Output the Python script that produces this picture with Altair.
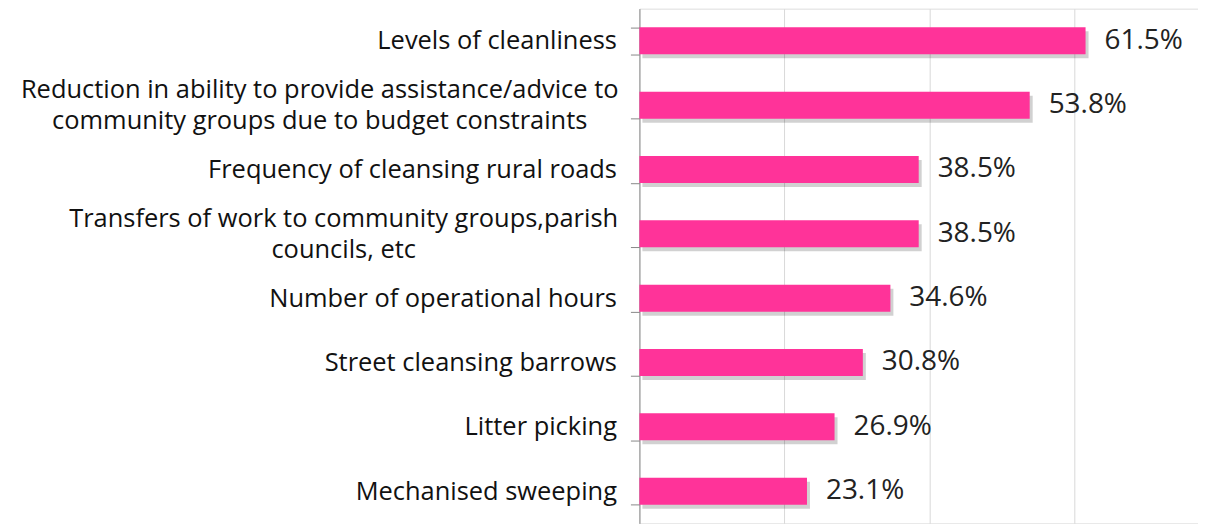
import altair as alt
import pandas as pd

categories = [
    "Levels of cleanliness",
    "Reduction in ability to provide assistance/advice to\ncommunity groups due to budget constraints",
    "Frequency of cleansing rural roads",
    "Transfers of work to community groups,parish\ncouncils, etc",
    "Number of operational hours",
    "Street cleansing barrows",
    "Litter picking",
    "Mechanised sweeping",
]
values = [0.615, 0.538, 0.385, 0.385, 0.346, 0.308, 0.269, 0.231]
labels = ["61.5%", "53.8%", "38.5%", "38.5%", "34.6%", "30.8%", "26.9%", "23.1%"]

df = pd.DataFrame({"cat": categories, "val": values, "lab": labels})

multi = "indexof(datum.label, '\\n') >= 0"
y = alt.Y(
    "cat:N",
    sort=categories,
    title=None,
    scale=alt.Scale(paddingInner=0.58, paddingOuter=0.29),
    axis=alt.Axis(
        labelExpr="split(datum.label, '\\n')",
        labelFont="Open Sans",
        labelFontSize=25.5,
        labelColor="#111111",
        labelLineHeight=31,
        labelLimit=700,
        labelAlign={"condition": {"test": multi, "value": "center"}, "value": "right"},
        labelPadding={"condition": [
            {"test": "indexof(datum.label, 'Reduction') >= 0", "value": 312},
            {"test": "indexof(datum.label, 'Transfers') >= 0", "value": 288},
        ], "value": 14},
        labelOffset={"condition": {"test": multi, "value": -15.5}, "value": 0},
        tickBand="extent",
        tickSize=9,
        tickColor="#888888",
        domainColor="#888888",
        grid=False,
    ),
)
x = alt.X(
    "val:Q",
    title=None,
    scale=alt.Scale(domain=[0, 0.77], nice=False),
    axis=alt.Axis(values=[0.2, 0.4, 0.6], labels=False, ticks=False, domain=False,
                  grid=True, gridColor="#d9d9d9", gridWidth=1),
)

base = alt.Chart(df)
shadow = base.mark_bar(color="#000000", opacity=0.18, xOffset=3, yOffset=4).encode(x=x, y=y)
bars = base.mark_bar(color="#FF3399").encode(x=x, y=y)
text = base.mark_text(align="left", baseline="middle", dx=19, font="Open Sans",
                      fontSize=28, color="#222222").encode(x=x, y=y, text="lab:N")

chart = alt.layer(shadow, bars, text).properties(
    width=560, height=516,
    autosize=alt.AutoSizeParams(type="none"),
    padding={"left": 633, "top": 0, "right": 0, "bottom": 0},
).configure_view(stroke=None).configure(background="white")

chart.save("out.html", embed_options={"renderer": "svg", "actions": False})
